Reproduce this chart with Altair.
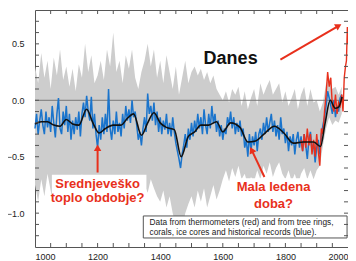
import altair as alt
import pandas as pd

# ---------------- data ----------------
blue_years = list(range(1000, 1985, 5))
blue_vals = [
    -0.25, -0.12, -0.30, -0.18, -0.08,
    -0.22, -0.30, -0.10, -0.24, -0.15,
    -0.28, -0.05, -0.20, -0.33, -0.12,
    0.02, -0.25, -0.30, -0.10, -0.22,
    -0.05, -0.28, -0.12, -0.35, -0.18,
    -0.30, -0.15, -0.26, -0.10, -0.32,
    -0.12, -0.02, -0.15, 0.04, -0.10,
    -0.18, 0.03, -0.25, -0.12, -0.30,
    -0.42, -0.22, -0.35, -0.15, -0.30,
    -0.12, -0.28, 0.10, -0.25, -0.35,
    -0.18, -0.30, -0.10, -0.28, -0.20,
    -0.32, -0.12, -0.25, -0.05, -0.18,
    -0.08, -0.20, 0.00, -0.15, -0.10,
    -0.22, -0.35, -0.28, -0.40, -0.25,
    -0.15, -0.28, 0.06, -0.12, -0.05,
    -0.18, -0.02, -0.22, -0.10, -0.28,
    -0.15, -0.30, -0.18, -0.26, -0.12,
    -0.30, -0.20, -0.32, -0.15, -0.28,
    -0.38, -0.45, -0.52, -0.60, -0.48,
    -0.40, -0.30, -0.42, -0.25, -0.35,
    -0.20, -0.32, -0.18, -0.28, -0.12,
    -0.25, -0.15, -0.30, -0.08, -0.22,
    -0.30, -0.12, -0.25, -0.05, -0.20,
    -0.12, -0.28, -0.18, -0.32, -0.22,
    -0.35, -0.25, -0.30, -0.15, -0.22,
    -0.10, -0.25, -0.15, -0.30, -0.20,
    -0.28, -0.18, -0.32, -0.25, -0.42,
    -0.35, -0.50, -0.30, -0.45, -0.32,
    -0.40, -0.28, -0.45, -0.30, -0.25,
    -0.35, -0.20, -0.30, -0.15, -0.28,
    -0.20, -0.12, -0.28, -0.18, -0.32,
    -0.22, -0.35, -0.15, -0.30, -0.25,
    -0.38, -0.28, -0.45, -0.32, -0.40,
    -0.30, -0.48, -0.35, -0.28, -0.42,
    -0.32, -0.45, -0.30, -0.40, -0.52,
    -0.35, -0.28, -0.45, -0.38, -0.55,
    -0.42, -0.35, -0.48, -0.30, -0.22,
    -0.15, -0.05, 0.08, 0.02, -0.05,
    -0.12, 0.00, -0.15, -0.05, -0.10,
    0.02, 0.05,
]

black_years = [1000, 1020, 1040, 1060, 1080, 1100, 1120, 1140, 1165, 1185,
               1205, 1225, 1250, 1275, 1295, 1315, 1340, 1360, 1380, 1400,
               1420, 1445, 1467, 1490, 1510, 1530, 1555, 1580, 1600, 1625,
               1655, 1680, 1705, 1735, 1765, 1795, 1825, 1857, 1890, 1912,
               1927, 1943, 1959, 1970, 1981]
black_vals = [-0.21, -0.19, -0.19, -0.22, -0.23, -0.17, -0.21, -0.22, -0.08, -0.20,
              -0.29, -0.25, -0.22, -0.22, -0.16, -0.12, -0.31, -0.20, -0.11, -0.20,
              -0.24, -0.26, -0.50, -0.32, -0.28, -0.22, -0.22, -0.19, -0.28, -0.20,
              -0.24, -0.37, -0.36, -0.29, -0.23, -0.29, -0.38, -0.37, -0.37, -0.41,
              -0.20, 0.00, -0.07, -0.06, 0.03]

red_years = [1850, 1855, 1860, 1865, 1870, 1875, 1880, 1885, 1890, 1895,
             1900, 1905, 1910, 1915, 1920, 1925, 1930, 1935, 1940, 1945,
             1950, 1955, 1960, 1965, 1970, 1975, 1980, 1984, 1988, 1992,
             1995, 1998, 2000]
red_vals = [-0.35, -0.45, -0.30, -0.42, -0.25, -0.40, -0.30, -0.48, -0.35, -0.50,
            -0.30, -0.45, -0.58, -0.25, -0.30, -0.10, 0.05, 0.25, 0.12, 0.20,
            -0.05, -0.10, 0.05, -0.12, -0.02, -0.05, 0.05, -0.10, 0.20, 0.30,
            0.35, 0.65, 0.50]

gray_years = list(range(1000, 1990, 10))
gray_hi = [
    0.30, 0.15, 0.42, 0.20, 0.35, 0.10, 0.38, 0.22, 0.45, 0.18,
    0.30, 0.12, 0.28, 0.08, 0.32, 0.20, 0.50, 0.25, 0.40, 0.15,
    0.22, 0.35, 0.18, 0.45, 0.30, 0.60, 0.25, 0.35, 0.15, 0.40,
    0.28, 0.45, 0.20, 0.10, 0.25, 0.35, 0.50, 0.30, 0.45, 0.20,
    0.35, 0.15, 0.40, 0.25, 0.10, 0.30, 0.05, 0.20, 0.35, 0.15,
    0.25, 0.30, 0.22, 0.28, 0.18, 0.25, 0.15, 0.22, 0.10, 0.05,
    0.00, 0.08, -0.02, 0.10, 0.05, 0.12, -0.05, 0.08, -0.08, 0.02,
    0.10, -0.05, 0.15, 0.05, 0.12, 0.18, 0.05, 0.10, 0.15, -0.02,
    0.08, -0.05, 0.02, 0.10, -0.08, 0.05, 0.12, -0.05, 0.10, -0.02,
    0.00, -0.10, -0.02, 0.15, 0.20, 0.10, 0.12, 0.05, 0.12,
]
gray_lo = [
    -0.75, -0.90, -0.70, -0.85, -0.65, -0.80, -0.95, -0.72, -0.85, -0.68,
    -0.80, -0.70, -0.88, -0.75, -0.82, -0.65, -0.78, -0.70, -0.88, -0.75,
    -0.92, -0.80, -0.70, -0.85, -0.78, -0.72, -0.90, -0.75, -0.82, -0.68,
    -0.78, -0.70, -0.85, -0.95, -0.88, -0.75, -0.82, -0.70, -0.78, -0.85,
    -0.90, -0.80, -0.95, -0.85, -1.00, -1.10, -1.20, -1.15, -1.00, -0.92,
    -0.85, -0.95, -0.80, -0.90, -0.78, -0.95, -0.85, -0.75, -0.88, -0.80,
    -0.70, -0.62, -0.72, -0.60, -0.68, -0.58, -0.70, -0.65, -0.75, -0.68,
    -0.72, -0.62, -0.70, -0.58, -0.65, -0.55, -0.68, -0.60, -0.55, -0.65,
    -0.70, -0.62, -0.72, -0.65, -0.75, -0.65, -0.60, -0.70, -0.62, -0.70,
    -0.62, -0.58, -0.40, -0.25, -0.15, -0.22, -0.18, -0.20, -0.12,
]

x_labels = [1000, 1200, 1400, 1600, 1800, 2000]
y_labels = [-1.0, -0.5, 0.0, 0.5]
x_minor = list(range(1050, 2000, 50))
y_minor = [-1.2, -1.1, -0.9, -0.8, -0.7, -0.6, -0.4, -0.3, -0.2, -0.1,
           0.1, 0.2, 0.3, 0.4, 0.6, 0.7]

# annotations (data coordinates)
arrow_x1 = [1200, 1733, 1784]
arrow_y1 = [-0.64, -0.68, 0.36]
arrow_x2 = [1200, 1692, 1970]
arrow_y2 = [-0.42, -0.44, 0.66]
head_angle = [0, 334, 60]

red_text = ["Srednjeveško", "toplo obdobje?", "Mala ledena", "doba?"]
red_text_x = [1200, 1200, 1762, 1762]
red_text_y = [-0.74, -0.87, -0.77, -0.92]

box_lines = ["Data from thermometers (red) and from tree rings,",
             "corals, ice cores and historical records (blue)."]

W, H = 313, 237
FONT = "Liberation Sans"

xs = alt.Scale(domain=[1000, 2000], nice=False, zero=False)
ys = alt.Scale(domain=[-1.3, 0.8], nice=False, zero=False)
xaxis = alt.Axis(values=x_labels, format="d", ticks=False, domain=False, grid=False,
                 title=None, labelFontSize=9, labelPadding=5, labelColor="#222",
                 labelFont=FONT)
yaxis = alt.Axis(values=y_labels, format=".1f", ticks=False, domain=False, grid=False,
                 title=None, labelFontSize=9, labelPadding=11, labelColor="#222",
                 labelFont=FONT)


def X(f):
    return alt.X(f, type="quantitative", scale=xs, axis=xaxis)


def Y(f):
    return alt.Y(f, type="quantitative", scale=ys, axis=yaxis)


gray_df = pd.DataFrame({"year": gray_years, "hi": gray_hi, "lo": gray_lo})
blue_df = pd.DataFrame({"year": blue_years, "v": blue_vals})
black_df = pd.DataFrame({"year": black_years, "v": black_vals})
red_df = pd.DataFrame({"year": red_years, "v": red_vals})

gray = alt.Chart(gray_df).mark_area(color="#cdcdcd", opacity=1).encode(
    x=X("year"), y=Y("hi"), y2="lo:Q")

zero = alt.Chart(pd.DataFrame({"v": [0.0]})).mark_rule(color="#777", strokeWidth=1).encode(
    y=Y("v"))

blue = alt.Chart(blue_df).mark_line(color="#1a74cc", strokeWidth=1.5).encode(
    x=X("year"), y=Y("v"))
red = alt.Chart(red_df).mark_line(color="#e8301c", strokeWidth=1.4).encode(
    x=X("year"), y=Y("v"))
black = alt.Chart(black_df).mark_line(color="#111", strokeWidth=1.6, interpolate="monotone").encode(
    x=X("year"), y=Y("v"))

# white backgrounds behind red labels
bg_df = pd.DataFrame({"x1": [1054, 1644], "x2": [1356, 1879],
                      "y1": [-0.66, -0.69], "y2": [-0.95, -0.99]})
bg = alt.Chart(bg_df).mark_rect(color="white").encode(
    x=X("x1"), x2="x2:Q", y=Y("y1"), y2="y2:Q")

arr_df = pd.DataFrame({"x1": arrow_x1, "y1": arrow_y1, "x2": arrow_x2,
                       "y2": arrow_y2, "ang": head_angle})
shafts = alt.Chart(arr_df).mark_rule(color="#e8301c", strokeWidth=2).encode(
    x=X("x1"), y=Y("y1"), x2="x2:Q", y2="y2:Q")
heads = alt.Chart(arr_df).mark_point(shape="triangle-up", filled=True, color="#e8301c",
                                     size=55, opacity=1).encode(
    x=X("x2"), y=Y("y2"), angle=alt.Angle("ang:Q", scale=None))

rt_df = pd.DataFrame({"t": red_text, "x": red_text_x, "y": red_text_y})
rtext = alt.Chart(rt_df).mark_text(color="#e8301c", font=FONT, fontSize=13,
                                   fontWeight="bold", align="center", baseline="middle").encode(
    x=X("x"), y=Y("y"), text="t:N")

danes = alt.Chart(pd.DataFrame({"t": ["Danes"], "x": [1625], "y": [0.37]})).mark_text(
    color="#111", font=FONT, fontSize=18, fontWeight="bold", align="center",
    baseline="middle").encode(x=X("x"), y=Y("y"), text="t:N")

box = alt.Chart(pd.DataFrame({"x1": [1346], "x2": [1997], "y1": [-1.025], "y2": [-1.22]})).mark_rect(
    fill="white", stroke="#555", strokeWidth=1).encode(
    x=X("x1"), x2="x2:Q", y=Y("y1"), y2="y2:Q")
box_df = pd.DataFrame({"t": box_lines, "x": [1366, 1366], "y": [-1.085, -1.172]})
boxtext = alt.Chart(box_df).mark_text(color="#222", font=FONT, fontSize=8.3,
                                      align="left", baseline="middle").encode(
    x=X("x"), y=Y("y"), text="t:N")

# inward ticks on all four sides
xt_df = pd.DataFrame({"year": x_minor})
yt_df = pd.DataFrame({"v": y_minor + y_labels})
tick_color = "#555"
xt_top = alt.Chart(xt_df).mark_rule(color=tick_color).encode(
    x=X("year"), y=alt.value(0), y2=alt.value(4))
xt_bot = alt.Chart(xt_df).mark_rule(color=tick_color).encode(
    x=X("year"), y=alt.value(H), y2=alt.value(H - 4))
yt_left = alt.Chart(yt_df).mark_rule(color=tick_color).encode(
    y=Y("v"), x=alt.value(0), x2=alt.value(4))
yt_right = alt.Chart(yt_df).mark_rule(color=tick_color).encode(
    y=Y("v"), x=alt.value(W), x2=alt.value(W - 4))

chart = alt.layer(
    gray, zero, blue, red, black, bg, shafts, heads, rtext, danes, box, boxtext,
    xt_top, xt_bot, yt_left, yt_right
).properties(
    width=W, height=H,
    autosize=alt.AutoSizeParams(type="none"),
    padding={"left": 27, "top": 2, "right": 0, "bottom": 16},
    background="white",
).configure_view(stroke="#555", strokeWidth=1)

chart.save("out.html", embed_options={"renderer": "svg", "actions": False})
